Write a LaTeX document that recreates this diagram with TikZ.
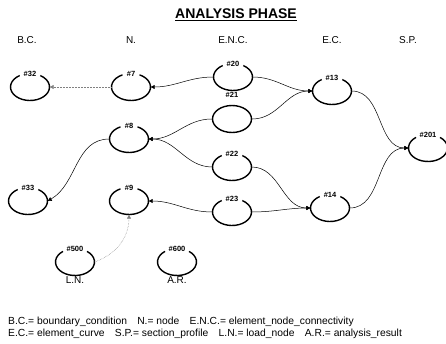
\documentclass[tikz,border=0pt]{standalone}
\usepackage{fontspec}
\setmainfont{Liberation Sans}
\usetikzlibrary{shapes.geometric,arrows.meta}
\tikzset{
 oval/.style={ellipse, minimum width=39pt, minimum height=27pt, inner sep=0pt},
 ovalline/.style={line width=1.4pt},
 lab/.style={font=\bfseries\fontsize{7.5}{8}\selectfont, inner sep=0pt},
 hdr/.style={font=\fontsize{10}{12}\selectfont, inner sep=0pt},
 legend/.style={font=\fontsize{10.3}{12}\selectfont, inner sep=0pt, anchor=base west},
 conn/.style={line width=0.5pt, -{Triangle[length=4pt,width=4pt]}},
 faint/.style={conn, densely dotted, gray},
}
% name, x, y, label, half-gap angle
\newcommand\ovalnode[5]{%
 \node[oval] (#1) at (#2,#3) {};
 \draw[ovalline] (#1.center) ++(90+#5:19.5pt and 13.5pt) arc[start angle=90+#5,end angle=450-#5,x radius=19.5pt,y radius=13.5pt];
 \node[lab] (#1-l) at ([yshift=-0.8pt]#1.north) {#4};
}
\begin{document}
\begin{tikzpicture}[x=1pt,y=-1pt]
\useasboundingbox (0,0) rectangle (446,343);
\node[font=\bfseries\fontsize{14}{16}\selectfont, inner sep=0pt] (title) at (236,15) {\underline{ANALYSIS PHASE}};
\node[hdr] (h1) at (27,40) {B.C.};
\node[hdr] (h2) at (131,40) {N.};
\node[hdr] (h3) at (233,40) {E.N.C.};
\node[hdr] (h4) at (332,40) {E.C.};
\node[hdr] (h5) at (408,40) {S.P.};

\ovalnode{n32}{30}{87}{\#32}{32}
\ovalnode{n7}{131}{87}{\#7}{26}
\ovalnode{n20}{233}{77}{\#20}{32}
\node[oval, draw, ovalline] (n21) at (232,119) {};
\node[lab] (n21-l) at (232,95) {\#21};
\ovalnode{n8}{129}{139}{\#8}{26}
\ovalnode{n22}{232}{167}{\#22}{32}
\ovalnode{n9}{129}{201}{\#9}{26}
\ovalnode{n23}{232}{212}{\#23}{32}
\ovalnode{n13}{332}{91}{\#13}{32}
\ovalnode{n14}{330}{208}{\#14}{32}
\ovalnode{n201}{428}{148}{\#201}{38}
\ovalnode{n33}{28}{201}{\#33}{32}
\ovalnode{n500}{75}{262}{\#500}{38}
\ovalnode{n600}{177}{262}{\#600}{38}
\node[hdr] (ln) at (75,280) {L.N.};
\node[hdr] (ar) at (177,280) {A.R.};

\draw[faint] (n7.west) -- (n32.east);
\draw[conn] (n20.west) to[out=180,in=0] (n7.east);
\draw[conn] (n20.east) to[out=0,in=180] (n13.west);
\draw[conn] (n21.east) to[out=0,in=180] (n13.west);
\draw[conn] (n21.west) to[out=180,in=0] (n8.east);
\draw[conn] (n22.west) to[out=180,in=0] (n8.east);
\draw[conn] (n22.east) to[out=0,in=180] (n14.west);
\draw[conn] (n23.east) to[out=0,in=180] (n14.west);
\draw[conn] (n23.west) to[out=180,in=0] (n9.east);
\draw[conn] (n13.east) to[out=0,in=180] (n201.west);
\draw[conn] (n14.east) to[out=0,in=180] (n201.west);
\draw[conn] (n8.west) to[out=180,in=30] (n33.east);
\draw[faint] (n500.east) to[out=20,in=-90] (n9.south);

\node[legend] (leg1) at (8,324) {B.C.= boundary\_condition\quad N.= node\quad E.N.C.= element\_node\_connectivity};
\node[legend] (leg2) at (8,336) {E.C.= element\_curve\quad S.P.= section\_profile\quad L.N.= load\_node\quad A.R.= analysis\_result};
\end{tikzpicture}
\end{document}
